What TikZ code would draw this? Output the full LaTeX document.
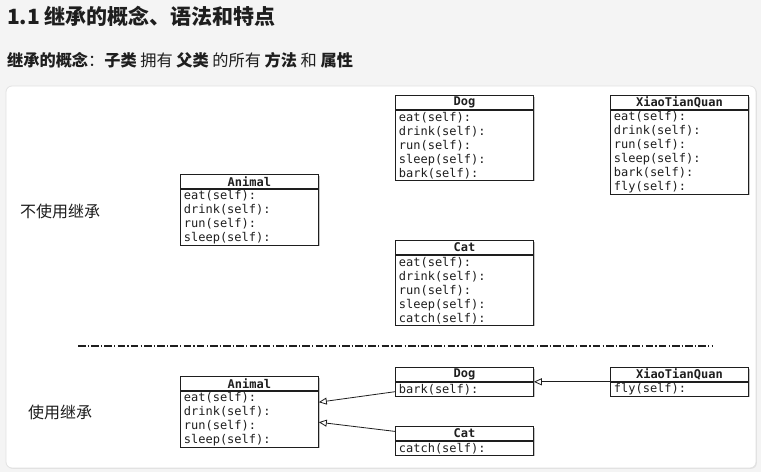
\documentclass[tikz,border=0pt]{standalone}
\usepackage{fontspec}
\setmainfont{Noto Sans CJK SC}
\newfontfamily\monofam{DejaVu Sans Mono}
\usetikzlibrary{arrows.meta,shadows}
\definecolor{bgc}{HTML}{F4F4F4}
\definecolor{panelborder}{HTML}{E2E2E2}
\definecolor{ink}{HTML}{1E1E1E}
\tikzset{
  hdr/.style={draw=ink, line width=0.8pt, fill=white, minimum width=138pt, minimum height=14pt,
    inner sep=0pt, anchor=north west, font=\monofam\bfseries\fontsize{12}{14}\selectfont, text=ink,
    drop shadow={shadow xshift=1.2pt, shadow yshift=-1.2pt, fill=black!50, opacity=.45}},
  bod/.style={draw=ink, line width=0.8pt, fill=white, text width=131pt, align=left, inner xsep=3.5pt,
    inner ysep=0pt, anchor=north west, font=\monofam\fontsize{12}{14}\selectfont, text=ink,
    drop shadow={shadow xshift=1.2pt, shadow yshift=-1.2pt, fill=black!50, opacity=.45}},
  inh/.style={draw=ink, line width=0.8pt, -{Triangle[open, length=8pt, width=7pt]}},
  lbl/.style={font=\fontsize{16}{18}\selectfont, text=ink, inner sep=0pt},
  sep/.style={draw=ink, line width=1.4pt, dash pattern=on 7.5pt off 2.2pt on 1.3pt off 2.2pt}
}
\newcommand\umlcls[6]{%
  \node[hdr] (#1h) at (#2,#3) {#4};
  \node[bod, minimum height=#5*14pt] (#1b) at (#1h.south west) {#6};
}
\begin{document}
\begin{tikzpicture}[x=1pt,y=-1pt]
\useasboundingbox (0,0) rectangle (761,472);
\fill[bgc] (0,0) rectangle (761,472);
% panel
\path[fill=white, draw=panelborder, line width=0.8pt, rounded corners=6pt,
  drop shadow={shadow xshift=0.8pt, shadow yshift=-0.8pt, fill=black!30, opacity=.3}]
  (6,86) rectangle (756,468);
% title texts
\node[anchor=west, inner sep=0pt, text=ink, font=\bfseries\fontsize{21}{24}\selectfont] (title) at (7,16) {1.1 继承的概念、语法和特点};
\node[anchor=west, inner sep=0pt, text=ink, font=\fontsize{16.2}{18}\selectfont] (sub) at (7,60)
  {\textbf{继承的概念}：\textbf{子类} 拥有 \textbf{父类} 的所有 \textbf{方法} 和 \textbf{属性}};
% labels
\node[lbl, anchor=west] (l1) at (20,211) {不使用继承};
\node[lbl, anchor=west] (l2) at (28,412) {使用继承};
% upper part
\umlcls{a1}{180}{174}{Animal}{4}{eat(self):\\drink(self):\\run(self):\\sleep(self):}
\umlcls{d1}{395}{95}{Dog}{5}{eat(self):\\drink(self):\\run(self):\\sleep(self):\\bark(self):}
\umlcls{x1}{610}{95}{XiaoTianQuan}{6}{eat(self):\\drink(self):\\run(self):\\sleep(self):\\bark(self):\\fly(self):}
\umlcls{c1}{395}{240}{Cat}{5}{eat(self):\\drink(self):\\run(self):\\sleep(self):\\catch(self):}
% separator
\coordinate (s1) at (78,346);
\coordinate (s2) at (712,346);
\draw[sep] (s1) -- (s2);
% lower part
\umlcls{a2}{180}{376}{Animal}{4}{eat(self):\\drink(self):\\run(self):\\sleep(self):}
\umlcls{d2}{395}{367}{Dog}{1}{bark(self):}
\umlcls{c2}{395}{426}{Cat}{1}{catch(self):}
\umlcls{x2}{610}{367}{XiaoTianQuan}{1}{fly(self):}
% inheritance arrows
\draw[inh] ([yshift=-2.5pt]d2b.west) -- ([yshift=17pt]a2b.east);
\draw[inh] ([yshift=2pt]c2h.west) -- ([yshift=-3pt]a2b.east);
\draw[inh] (x2h.south west) -- (d2h.south east);
\end{tikzpicture}
\end{document}
